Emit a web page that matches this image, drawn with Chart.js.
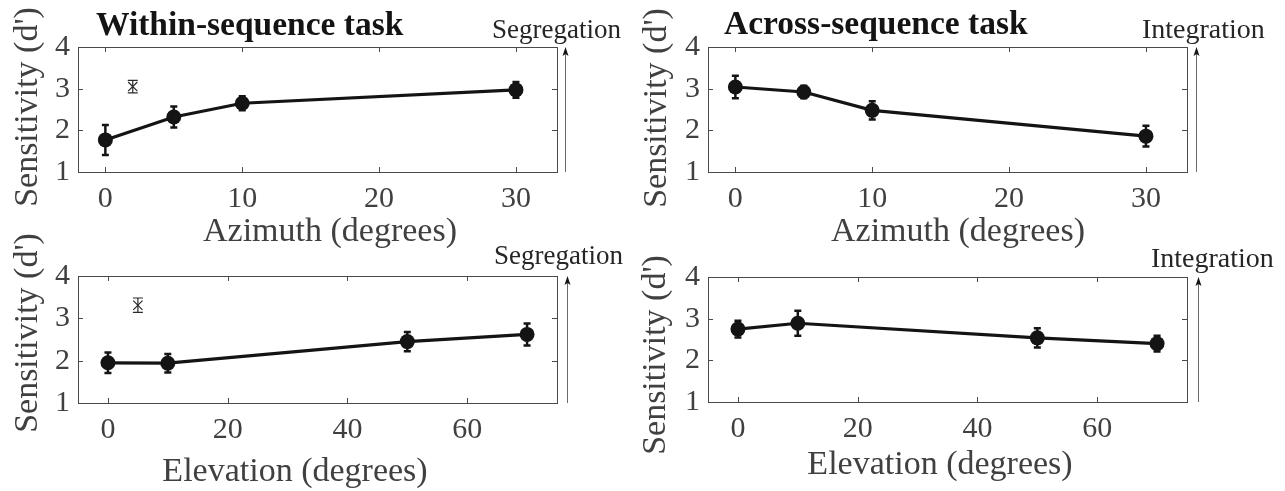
<!DOCTYPE html>
<html>
<head>
<meta charset="utf-8">
<script src="https://cdn.jsdelivr.net/npm/chart.js@4.4.0/dist/chart.umd.min.js"></script>
<style>
  body { margin: 0; background: #fff; }
  #page { position: relative; width: 1285px; height: 491px; overflow: hidden;
          font-family: 'Liberation Serif', 'Times New Roman', serif; color: #404040; }
  .panel { position: absolute; }
  .txt { position: absolute; white-space: nowrap; line-height: 1; }
  .title { font-weight: bold; font-size: 33.5px; color: #141414; }
  .dir { font-size: 27px; color: #262626; }
  .xlab { font-size: 34px; transform: translateX(-50%); }
  .ylab { font-size: 34px; transform: translate(-50%, -50%) rotate(-90deg); }
</style>
</head>
<body>
<div id="page">
  <div class="panel" style="left:0;top:0"><canvas id="c1" width="640" height="250"></canvas></div>
  <div class="panel" style="left:640px;top:0"><canvas id="c2" width="645" height="250"></canvas></div>
  <div class="panel" style="left:0;top:250px"><canvas id="c3" width="640" height="241"></canvas></div>
  <div class="panel" style="left:640px;top:250px"><canvas id="c4" width="645" height="241"></canvas></div>

  <div class="txt title" style="left:96px;top:7px">Within-sequence task</div>
  <div class="txt title" style="left:724px;top:6px">Across-sequence task</div>

  <div class="txt dir" style="left:492px;top:16px">Segregation</div>
  <div class="txt dir" style="left:1142px;top:15px;font-size:28px">Integration</div>
  <div class="txt dir" style="left:494px;top:242px">Segregation</div>
  <div class="txt dir" style="left:1151px;top:244px;font-size:28px">Integration</div>

  <div class="txt xlab" style="left:330px;top:213px">Azimuth (degrees)</div>
  <div class="txt xlab" style="left:958px;top:213px">Azimuth (degrees)</div>
  <div class="txt xlab" style="left:295px;top:453px">Elevation (degrees)</div>
  <div class="txt xlab" style="left:940px;top:446px">Elevation (degrees)</div>

  <div class="txt ylab" style="left:26px;top:107px">Sensitivity (d')</div>
  <div class="txt ylab" style="left:655px;top:108px">Sensitivity (d')</div>
  <div class="txt ylab" style="left:26px;top:333px">Sensitivity (d')</div>
  <div class="txt ylab" style="left:654px;top:355px">Sensitivity (d')</div>
</div>

<script>
// conditions
const azimuth = [0, 5, 10, 30];
const elevation = [0, 10, 50, 70];

// tick labels
const azimuthTicks = [0, 10, 20, 30];
const elevationTicks = [0, 20, 40, 60];
const sensTicks = [1, 2, 3, 4];

// within-sequence task
const withinAz = [1.77, 2.32, 2.65, 2.97];
const withinAzErr = [0.36, 0.25, 0.17, 0.19];
const withinEl = [1.95, 1.94, 2.45, 2.62];
const withinElErr = [0.24, 0.22, 0.23, 0.26];

// across-sequence task
const acrossAz = [3.04, 2.92, 2.48, 1.86];
const acrossAzErr = [0.27, 0.15, 0.22, 0.25];
const acrossEl = [2.75, 2.89, 2.54, 2.40];
const acrossElErr = [0.20, 0.30, 0.23, 0.19];

// single reference points (x marker), azimuth panel then elevation panel
const refX = [2, 5];
const refY = [3.05, 3.31];
const refErr = [0.15, 0.17];

const FONT = "'Liberation Serif', 'Times New Roman', serif";
const INK = '#141414';

// box, inward ticks, side arrow and error bars
const figurePlugin = {
    id: 'figure',
    beforeDatasetsDraw(chart, args, opts) {
        const { ctx, chartArea: a, scales: { x, y } } = chart;
        ctx.save();
        ctx.strokeStyle = '#4a4a4a';
        ctx.lineWidth = 1;
        ctx.strokeRect(Math.round(a.left) + 0.5, Math.round(a.top) + 0.5,
            Math.round(a.right - a.left), Math.round(a.bottom - a.top));

        const tl = 5;
        ctx.beginPath();
        x.ticks.forEach(t => {
            const px = Math.round(x.getPixelForValue(t.value)) + 0.5;
            ctx.moveTo(px, a.bottom); ctx.lineTo(px, a.bottom - tl);
            ctx.moveTo(px, a.top); ctx.lineTo(px, a.top + tl);
        });
        y.ticks.forEach(t => {
            const py = Math.round(y.getPixelForValue(t.value)) + 0.5;
            ctx.moveTo(a.left, py); ctx.lineTo(a.left + tl, py);
            ctx.moveTo(a.right, py); ctx.lineTo(a.right - tl, py);
        });
        ctx.stroke();

        // arrow on the right
        const ax = Math.round(a.right + opts.arrowDx) + 0.5;
        ctx.strokeStyle = '#6a6a6a';
        ctx.beginPath();
        ctx.moveTo(ax, a.bottom);
        ctx.lineTo(ax, a.top + 6);
        ctx.stroke();
        ctx.fillStyle = INK;
        ctx.beginPath();
        ctx.moveTo(ax, a.top);
        ctx.lineTo(ax - 3, a.top + 9);
        ctx.lineTo(ax, a.top + 7);
        ctx.lineTo(ax + 3, a.top + 9);
        ctx.closePath();
        ctx.fill();

        // error bars
        chart.data.datasets.forEach((ds, i) => {
            const meta = chart.getDatasetMeta(i);
            ctx.strokeStyle = ds.borderColor;
            ctx.lineWidth = ds.errWidth;
            meta.data.forEach((pt, j) => {
                const v = ds.data[j].y, e = ds.errors[j];
                const top = y.getPixelForValue(v + e);
                const bot = y.getPixelForValue(v - e);
                ctx.beginPath();
                ctx.moveTo(pt.x, top); ctx.lineTo(pt.x, bot);
                ctx.moveTo(pt.x - ds.capW, top); ctx.lineTo(pt.x + ds.capW, top);
                ctx.moveTo(pt.x - ds.capW, bot); ctx.lineTo(pt.x + ds.capW, bot);
                ctx.stroke();
            });
        });
        ctx.restore();
    }
};

function makePanel(id, xs, ys, es, ref, xMin, xMax, xTicks, lay) {
    const datasets = [{
        data: xs.map((v, i) => ({ x: v, y: ys[i] })),
        errors: es,
        showLine: true,
        borderColor: INK,
        backgroundColor: INK,
        borderWidth: 3.2,
        pointRadius: 7.5,
        pointBorderWidth: 0,
        pointBackgroundColor: INK,
        errWidth: 2.5,
        capW: 3.5,
    }];
    if (ref !== null) {
        datasets.push({
            data: [{ x: refX[ref], y: refY[ref] }],
            errors: [refErr[ref]],
            showLine: false,
            borderColor: '#2a2a2a',
            pointStyle: 'crossRot',
            pointRadius: 6.5,
            pointBorderWidth: 1.2,
            errWidth: 1.2,
            capW: 5,
        });
    }
    return new Chart(document.getElementById(id), {
        type: 'scatter',
        data: { datasets: datasets },
        plugins: [figurePlugin],
        options: {
            responsive: false,
            animation: false,
            events: [],
            layout: { padding: { top: lay.top, right: lay.right, left: 0, bottom: 0 } },
            plugins: {
                legend: { display: false },
                tooltip: { enabled: false },
                figure: { arrowDx: lay.arrowDx },
            },
            scales: {
                x: {
                    type: 'linear',
                    min: xMin,
                    max: xMax,
                    afterBuildTicks: s => { s.ticks = xTicks.map(v => ({ value: v })); },
                    afterFit: s => { s.height = lay.xH; },
                    grid: { display: false, drawTicks: false },
                    border: { display: false },
                    ticks: { font: { family: FONT, size: 30 }, color: '#404040', padding: 9, maxRotation: 0, autoSkip: false },
                },
                y: {
                    type: 'linear',
                    min: 1,
                    max: 4,
                    afterBuildTicks: s => { s.ticks = sensTicks.map(v => ({ value: v })); },
                    afterFit: s => { s.width = lay.yW; },
                    grid: { display: false, drawTicks: false },
                    border: { display: false },
                    ticks: { font: { family: FONT, size: 30 }, color: '#404040', padding: 8 },
                },
            },
        },
    });
}

makePanel('c1', azimuth, withinAz, withinAzErr, 0, -2, 33, azimuthTicks,
    { top: 47, right: 83, xH: 78, yW: 78, arrowDx: 8 });
makePanel('c2', azimuth, acrossAz, acrossAzErr, null, -2, 33, azimuthTicks,
    { top: 47, right: 98, xH: 78, yW: 68, arrowDx: 9 });
makePanel('c3', elevation, withinEl, withinElErr, 1, -5, 75, elevationTicks,
    { top: 25, right: 83, xH: 88, yW: 78, arrowDx: 10 });
makePanel('c4', elevation, acrossEl, acrossElErr, null, -5, 75, elevationTicks,
    { top: 27, right: 98, xH: 89, yW: 68, arrowDx: 11 });
</script>
</body>
</html>
